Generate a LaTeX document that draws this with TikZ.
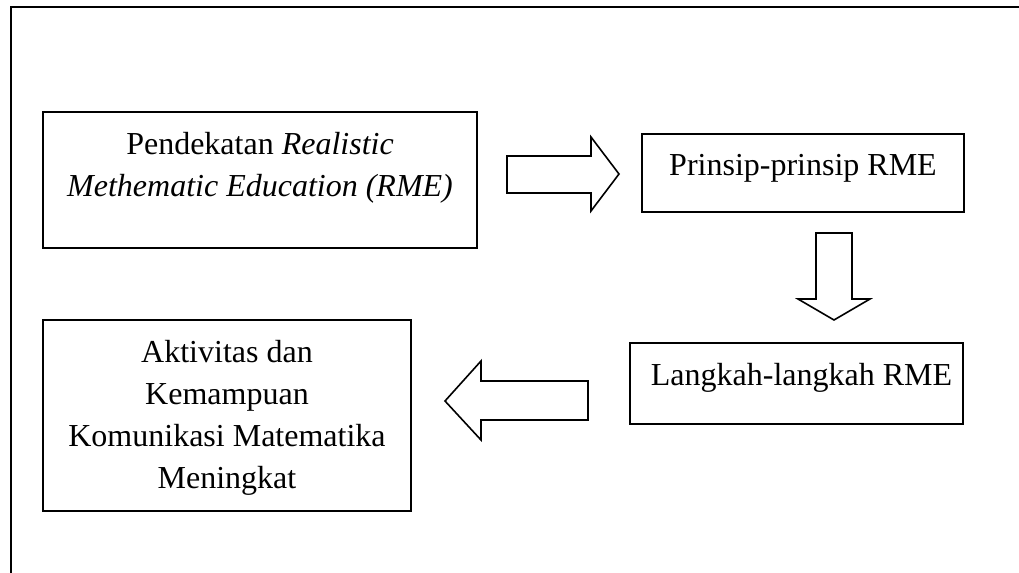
\documentclass[tikz,border=0pt]{standalone}
\usepackage{fontspec}
\setmainfont{Liberation Serif}
\usetikzlibrary{calc}

\begin{document}
\begin{tikzpicture}[x=0.5pt,y=-0.5pt,
    kotak/.style={draw, line width=0.9pt, inner sep=0pt},
    teks/.style={anchor=north, inner sep=0pt, align=center, font=\fontsize{16}{21}\selectfont},
    panah/.style={draw, line width=0.8pt, line join=miter}]
    \useasboundingbox (0,0) rectangle (1019,573);

    \draw[line width=1.1pt] (1019,7) -- (11,7) -- (11,573);	%frame

    \node[kotak, minimum width=217pt, minimum height=68pt] (K1) at (260,180) {};
    \node[kotak, minimum width=161pt, minimum height=39pt] (K2) at (803,173) {};
    \node[kotak, minimum width=166.5pt, minimum height=40.5pt] (K3) at (796.5,383.5) {};
    \node[kotak, minimum width=184pt, minimum height=95.5pt] (K4) at (227,415.5) {};

    \node[teks] (T1) at ($(K1.north)+(0,21)$) {Pendekatan \textit{Realistic}\\\textit{Methematic Education (RME)}};
    \node[teks] (T2) at ($(K2.north)+(0,21)$) {Prinsip-prinsip RME};
    \node[teks] (T3) at ($(K3.north)+(5,21)$) {Langkah-langkah RME};
    \node[teks] (T4) at ($(K4.north)+(0,21)$) {Aktivitas dan\\Kemampuan\\Komunikasi Matematika\\Meningkat};

    \draw[panah] (507,156) -- (591,156) -- (591,137) -- (619,174) -- (591,211) -- (591,193) -- (507,193) -- cycle;
    \draw[panah] (816,233) -- (852,233) -- (852,299) -- (870,299) -- (834,320) -- (798,299) -- (816,299) -- cycle;
    \draw[panah] (588,381) -- (481,381) -- (481,361) -- (445,401) -- (481,440) -- (481,420) -- (588,420) -- cycle;
\end{tikzpicture}
\end{document}
